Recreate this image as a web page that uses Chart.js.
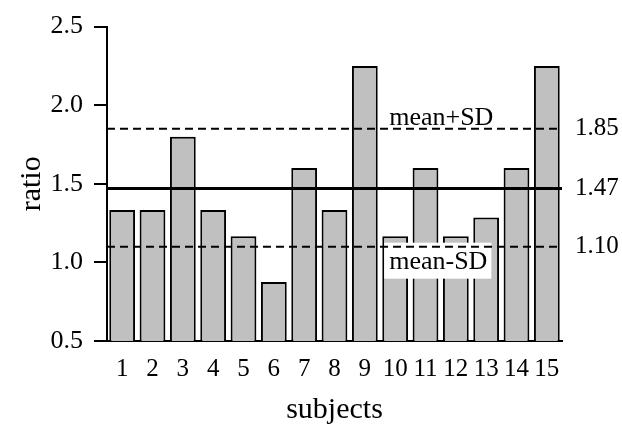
<!DOCTYPE html>
<html>
<head>
<meta charset="utf-8">
<script src="https://cdn.jsdelivr.net/npm/chart.js@4/dist/chart.umd.min.js"></script>
<style>
  html, body { margin: 0; padding: 0; background: #fff; }
  #wrap { width: 622px; height: 429px; }
</style>
</head>
<body>
<div id="wrap"><canvas id="c" width="622" height="429"></canvas></div>
<script>
// ---- data ----
const subjects = ['1','2','3','4','5','6','7','8','9','10','11','12','13','14','15'];
const ratios = [1.333, 1.333, 1.8, 1.333, 1.167, 0.875, 1.6, 1.333, 2.25, 1.167, 1.6, 1.167, 1.286, 1.6, 2.25];
const yTickValues = [0.5, 1.0, 1.5, 2.0, 2.5];
const yTickLabels = ['0.5', '1.0', '1.5', '2.0', '2.5'];
const meanValue = 1.47;
const upperValue = 1.85;
const lowerValue = 1.10;
const meanLabel = '1.47';
const upperLabel = '1.85';
const lowerLabel = '1.10';
const upperText = 'mean+SD';
const lowerText = 'mean-SD';
const xTitle = 'subjects';
const yTitle = 'ratio';

const FONT = "'Liberation Serif', 'Times New Roman', serif";

const refPlugin = {
  id: 'refLines',
  afterDatasetsDraw(chart) {
    const {ctx, chartArea, scales: {x, y}} = chart;
    const left = chartArea.left, right = chartArea.right;
    const yU = y.getPixelForValue(upperValue);
    const yM = y.getPixelForValue(meanValue);
    const yL = y.getPixelForValue(lowerValue);
    const tx = x.getPixelForValue(9) - 6;
    ctx.save();
    // white box behind lower text
    ctx.font = '26px ' + FONT;
    const w = ctx.measureText(lowerText).width;
    ctx.fillStyle = '#ffffff';
    ctx.fillRect(tx - 5, yL - 4, w + 9, 36);
    // lines
    ctx.strokeStyle = '#000';
    ctx.lineWidth = 2;
    ctx.setLineDash([8, 5]);
    ctx.beginPath();
    ctx.moveTo(left, yU); ctx.lineTo(right, yU);
    ctx.moveTo(left, yL); ctx.lineTo(right, yL);
    ctx.stroke();
    ctx.setLineDash([]);
    ctx.lineWidth = 3;
    ctx.beginPath();
    ctx.moveTo(left, yM); ctx.lineTo(right, yM);
    ctx.stroke();
    // texts
    ctx.fillStyle = '#000';
    ctx.textAlign = 'left';
    ctx.textBaseline = 'alphabetic';
    ctx.fillText(upperText, tx, yU - 4);
    ctx.fillText(lowerText, tx, yL + 22);
    ctx.font = '25px ' + FONT;
    ctx.textBaseline = 'middle';
    ctx.fillText(upperLabel, right + 13, yU);
    ctx.fillText(meanLabel, right + 13, yM);
    ctx.fillText(lowerLabel, right + 13, yL);
    ctx.restore();
  }
};

new Chart(document.getElementById('c'), {
  type: 'bar',
  data: {
    labels: subjects,
    datasets: [{
      data: ratios,
      backgroundColor: '#c0c0c0',
      borderColor: '#000000',
      borderWidth: 2,
      borderSkipped: false,
      categoryPercentage: 1.0,
      barPercentage: 0.85
    }]
  },
  options: {
    responsive: false,
    animation: false,
    devicePixelRatio: 1,
    layout: { padding: { left: 0, right: 60, top: 24, bottom: 0 } },
    plugins: { legend: { display: false }, tooltip: { enabled: false } },
    scales: {
      x: {
        type: 'category',
        offset: true,
        grid: { display: false },
        border: { display: true, color: '#000', width: 2 },
        ticks: { color: '#000', font: { family: FONT, size: 25 }, padding: 5, maxRotation: 0, autoSkip: false },
        title: { display: true, text: xTitle, color: '#000', font: { family: FONT, size: 30 }, padding: { top: 0, bottom: 1 } },
        afterFit(scale) { scale.height = 88; }
      },
      y: {
        type: 'linear',
        min: 0.5,
        max: 2.5,
        afterBuildTicks(scale) { scale.ticks = yTickValues.map(v => ({ value: v })); },
        grid: { display: true, drawOnChartArea: false, drawTicks: true, tickLength: 13, color: '#000', lineWidth: 2 },
        border: { display: true, color: '#000', width: 2 },
        ticks: {
          color: '#000', font: { family: FONT, size: 26 }, padding: 11,
          callback(value) { const i = yTickValues.indexOf(value); return i >= 0 ? yTickLabels[i] : ''; }
        },
        title: { display: true, text: yTitle, color: '#000', font: { family: FONT, size: 30 }, padding: { top: 14, bottom: 0 } },
        afterFit(scale) { scale.width = 107; }
      }
    }
  },
  plugins: [refPlugin]
});
</script>
</body>
</html>
